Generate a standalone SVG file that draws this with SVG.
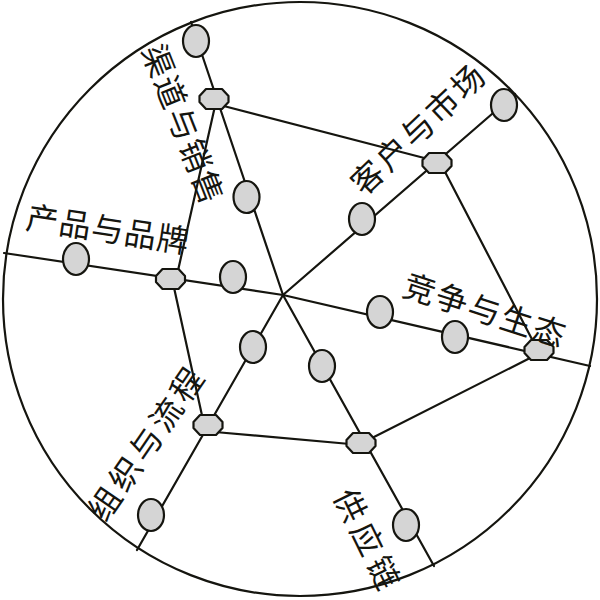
<svg xmlns="http://www.w3.org/2000/svg" xmlns:xlink="http://www.w3.org/1999/xlink" width="600" height="600" viewBox="0 0 600 600">
  <style>
    .ln { stroke: #15150f; stroke-width: 2.2; fill: none; stroke-linecap: round; }
    .el { fill: #d5d5d5; stroke: #15150f; stroke-width: 2.2; }
    .oc { fill: #d5d5d5; stroke: #15150f; stroke-width: 2.2; stroke-linejoin: round; }
    .lb { font-family: "Noto Sans CJK SC", "Noto Sans CJK JP", sans-serif; font-size: 32px; fill: #15150f; text-anchor: middle; dominant-baseline: central; }
  </style>
  <defs>
    <polygon id="oct" points="-14.5,-3 -8,-10 8,-10 14.5,-3 14.5,3 8,10 -8,10 -14.5,3"/>
  </defs>
  <rect width="600" height="600" fill="#ffffff"/>
  <circle cx="300" cy="299" r="297" class="ln"/>

  <g id="connectors">
    <!-- spokes -->
    <line class="ln" x1="283" y1="295" x2="191" y2="22"/>
    <line class="ln" x1="283" y1="295" x2="515" y2="94"/>
    <line class="ln" x1="283" y1="295" x2="590" y2="366"/>
    <line class="ln" x1="283" y1="295" x2="434" y2="566"/>
    <line class="ln" x1="283" y1="295" x2="137" y2="550"/>
    <line class="ln" x1="283" y1="295" x2="4" y2="253"/>
    <!-- ring -->
    <line class="ln" x1="216" y1="104" x2="432" y2="160"/>
    <line class="ln" x1="443" y1="168" x2="536" y2="347"/>
    <line class="ln" x1="532" y1="357" x2="370" y2="439"/>
    <line class="ln" x1="215" y1="432" x2="350" y2="444"/>
    <line class="ln" x1="203" y1="420" x2="173" y2="283"/>
    <line class="ln" x1="177" y1="275" x2="215" y2="106"/>
  </g>

  <g id="n-e1"><ellipse class="el" cx="196" cy="41" rx="13" ry="16"/></g>
  <g id="n-e2"><ellipse class="el" cx="246.5" cy="197" rx="13" ry="16"/></g>
  <g id="n-e3"><ellipse class="el" cx="504" cy="105" rx="13" ry="16"/></g>
  <g id="n-e4"><ellipse class="el" cx="362" cy="219" rx="13" ry="16"/></g>
  <g id="n-e5"><ellipse class="el" cx="76" cy="259" rx="13" ry="16"/></g>
  <g id="n-e6"><ellipse class="el" cx="233" cy="277" rx="13" ry="16"/></g>
  <g id="n-e7"><ellipse class="el" cx="380" cy="312" rx="13" ry="16"/></g>
  <g id="n-e8"><ellipse class="el" cx="455" cy="337" rx="13" ry="16"/></g>
  <g id="n-e9"><ellipse class="el" cx="253" cy="347" rx="13" ry="16"/></g>
  <g id="n-e10"><ellipse class="el" cx="151" cy="515" rx="13" ry="16"/></g>
  <g id="n-e11"><ellipse class="el" cx="322" cy="366" rx="13" ry="16"/></g>
  <g id="n-e12"><ellipse class="el" cx="406" cy="525" rx="13" ry="16"/></g>

  <g id="n-o1"><use xlink:href="#oct" href="#oct" class="oc" x="214" y="99"/></g>
  <g id="n-o2"><use xlink:href="#oct" href="#oct" class="oc" x="437" y="163"/></g>
  <g id="n-o3"><use xlink:href="#oct" href="#oct" class="oc" x="170.5" y="279"/></g>
  <g id="n-o4"><use xlink:href="#oct" href="#oct" class="oc" x="539" y="350"/></g>
  <g id="n-o5"><use xlink:href="#oct" href="#oct" class="oc" x="208" y="425"/></g>
  <g id="n-o6"><use xlink:href="#oct" href="#oct" class="oc" x="361" y="443"/></g>

  <g id="labels">
    <text class="lb" transform="translate(185,123) rotate(68.5)" x="1" letter-spacing="2">渠道与销售</text>
    <text class="lb" transform="translate(416,128) rotate(-43.7)" x="1.3" letter-spacing="2.6">客户与市场</text>
    <text class="lb" transform="translate(108,227) rotate(8.7)" x="0.5" letter-spacing="1">产品与品牌</text>
    <text class="lb" transform="translate(485,308) rotate(18)" x="1" letter-spacing="2">竞争与生态</text>
    <text class="lb" transform="translate(144,443) rotate(-55.4)" x="2" letter-spacing="4">组织与流程</text>
    <text class="lb" transform="translate(369,538) rotate(63.8)" x="2.8" letter-spacing="5.6">供应链</text>
  </g>
</svg>
